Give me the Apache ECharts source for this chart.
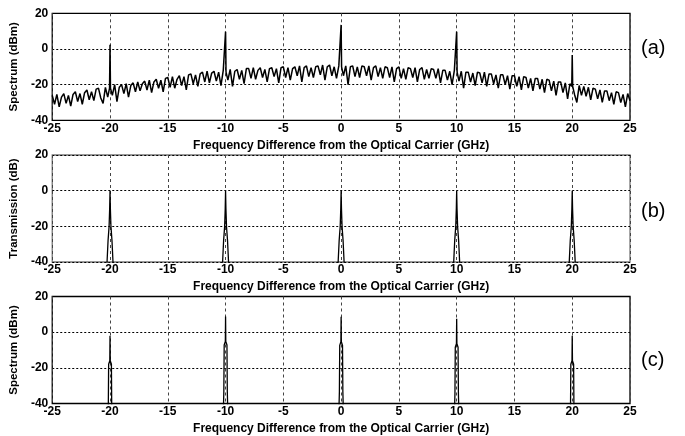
<!DOCTYPE html>
<html>
<head>
<meta charset="utf-8">
<script src="https://cdn.jsdelivr.net/npm/echarts@6/dist/echarts.min.js"></script>
<style>
html,body{margin:0;padding:0;background:#fff;}
#chart{width:685px;height:436px;}
</style>
</head>
<body>
<div id="chart"></div>
<script>
// ---- data ----
const xTicks = [-25, -20, -15, -10, -5, 0, 5, 10, 15, 20, 25];
const yTicks = [-40, -20, 0, 20];
const freqStart = -25;
const freqStep = 0.2;
// (a) noise floor of the measured spectrum (dBm), every 0.2 GHz from -25 to 25
const spectrumFloorA = [
  -26, -31, -25.5, -32.5, -27,
  -25, -30.5, -26, -32, -25.5,
  -24, -29.5, -25, -31, -24.5,
  -23, -28.5, -24, -29, -22.5,
  -22, -27.5, -30.5, -21.5, -27,
  -22, -26, -20, -29.5, -21.5,
  -20, -25, -19.5, -27, -20.5,
  -19, -24, -18.5, -23.5, -19.5,
  -18, -23, -17.5, -24.5, -18.5,
  -17, -22, -17.5, -24, -16.5,
  -16, -21.5, -15.5, -22, -17,
  -15, -20.5, -15.5, -23, -14.5,
  -14, -19.5, -14.5, -21, -14,
  -13, -18.5, -12.5, -19, -13.5,
  -12.5, -18, -13, -20.5, -12,
  -13, -17.5, -11.5, -21, -12.5,
  -11.5, -17, -12, -19.5, -11,
  -11, -16.5, -10.5, -17, -12,
  -10.5, -16, -11.5, -18.5, -11,
  -10.5, -15.5, -11, -19, -10.5,
  -10, -16, -10.5, -17.5, -11,
  -10, -15, -9.5, -18.5, -10.5,
  -9.5, -15.5, -10.5, -16, -10,
  -9.5, -14.5, -9, -17.5, -10,
  -9, -15, -10, -16.5, -9.5,
  -10, -15, -9.5, -20, -10,
  -9.5, -15.5, -10, -16, -9.5,
  -10, -15, -9.5, -17.5, -10.5,
  -9.5, -15.5, -10.5, -16.5, -10,
  -10.5, -16, -10, -18.5, -11,
  -10, -16.5, -11, -17, -10.5,
  -11, -16, -10.5, -18.5, -11.5,
  -10.5, -17, -11.5, -16.5, -11,
  -11.5, -16.5, -11, -19, -12,
  -12, -17.5, -12.5, -20, -12,
  -13, -18, -12.5, -22, -13,
  -13, -18.5, -13.5, -20.5, -13,
  -13.5, -19, -13, -21, -14,
  -14, -19.5, -14.5, -22, -14.5,
  -14.5, -20, -15, -22.5, -15,
  -15, -21, -15.5, -23, -15.5,
  -16, -22, -16.5, -23.5, -16.5,
  -16.5, -22.5, -17, -24.5, -17,
  -17.5, -23.5, -18, -26, -18.5,
  -18.5, -24.5, -19, -28, -19.5,
  -21, -25.5, -30, -20.5, -26,
  -21, -26.5, -21.5, -28.5, -22,
  -22.5, -28, -23, -30, -23.5,
  -23.5, -29, -24.5, -31, -24,
  -24.5, -30, -25.5, -32.5, -25,
  -29
];
const peakFreqs = [-20, -10, 0, 10, 20];
const peakLevelsA = [2.3, 9.7, 13.5, 9.7, -3.4];   // dBm
const peakLevelsB = [0, 0, 0, 0, 0];               // dB
const peakLevelsC = [-2, 8.8, 8.6, 7.5, -2];       // dBm
// peak shapes: [offset from centre (GHz), level relative to the peak top (dB)]
const profileB = [[-0.3, -46], [-0.25, -39], [-0.17, -28], [-0.08, -20], [-0.03, -10], [0, 0],
                  [0.03, -10], [0.08, -20], [0.17, -28], [0.25, -39], [0.3, -46]];
const profileC = [[-0.2, -55], [-0.15, -42], [-0.12, -16], [-0.02, -14], [0, 0],
                  [0.02, -14], [0.12, -16], [0.15, -42], [0.2, -55]];
const yNames = ['Spectrum (dBm)', 'Transmission (dB)', 'Spectrum (dBm)'];
const xName = 'Frequency Difference from the Optical Carrier (GHz)';
const panelTags = ['(a)', '(b)', '(c)'];

// ---- build series data ----
function buildA() {
  const out = [];
  spectrumFloorA.forEach((v, i) => {
    const x = Math.round((freqStart + i * freqStep) * 100) / 100;
    const k = peakFreqs.indexOf(x);
    if (k >= 0) {
      out.push([x - 0.04, v]);
      out.push([x, peakLevelsA[k]]);
      out.push([x + 0.04, v]);
    } else {
      out.push([x, v]);
    }
  });
  return out;
}
function buildComb(levels, profile) {
  const out = [[-25, -60]];
  peakFreqs.forEach((c, k) => {
    out.push([c - 0.5, -60]);
    profile.forEach(p => out.push([c + p[0], levels[k] + p[1]]));
    out.push([c + 0.5, -60]);
  });
  out.push([25, -60]);
  return out;
}
const dataSets = [buildA(), buildComb(peakLevelsB, profileB), buildComb(peakLevelsC, profileC)];

// ---- chart ----
const FONT = 'Arial, "Liberation Sans", sans-serif';
const tops = [13.3, 155, 296.5];
const frameColors = ['#000', '#777', '#000'];
const lineWidths = [1.5, 1.3, 1.3];
const chart = echarts.init(document.getElementById('chart'), null, {renderer: 'canvas'});

const grids = [], xAxes = [], yAxes = [], series = [], graphics = [];
tops.forEach((t, i) => {
  grids.push({left: 52, right: 55, top: t, height: 107, show: true,
    borderColor: frameColors[i], borderWidth: 1.3, backgroundColor: 'transparent'});
  xAxes.push({type: 'value', gridIndex: i, min: -25, max: 25, interval: 5,
    name: xName, nameLocation: 'middle', nameGap: 19,
    nameTextStyle: {fontFamily: FONT, fontSize: 12, fontWeight: 'bold', color: '#000'},
    axisLine: {show: false}, axisTick: {show: false},
    axisLabel: {fontFamily: FONT, fontSize: 12, fontWeight: 'bold', color: '#000', margin: 2},
    splitLine: {show: true, lineStyle: {color: '#444', width: 1, type: [3, 3]}}});
  yAxes.push({type: 'value', gridIndex: i, min: -40, max: 20, interval: 20,
    name: yNames[i], nameLocation: 'middle', nameGap: 26,
    nameTextStyle: {fontFamily: FONT, fontSize: 11.5, fontWeight: 'bold', color: '#000'},
    axisLine: {show: false}, axisTick: {show: false},
    axisLabel: {fontFamily: FONT, fontSize: 12, fontWeight: 'bold', color: '#000', margin: 4},
    splitLine: {show: true, lineStyle: {color: '#000', width: 1, type: [2, 2]}}});
  series.push({type: 'line', xAxisIndex: i, yAxisIndex: i, data: dataSets[i],
    showSymbol: false, symbol: 'none', clip: true, silent: true,
    lineStyle: {color: '#000', width: lineWidths[i]}});
});
const tagY = [50, 213, 362];
panelTags.forEach((tg, i) => {
  graphics.push({type: 'text', left: 641, top: tagY[i] - 12,
    style: {text: tg, font: '20px ' + FONT, fill: '#000'}});
});

chart.setOption({
  animation: false,
  backgroundColor: '#fff',
  grid: grids, xAxis: xAxes, yAxis: yAxes, series: series, graphic: graphics
});
</script>
</body>
</html>
